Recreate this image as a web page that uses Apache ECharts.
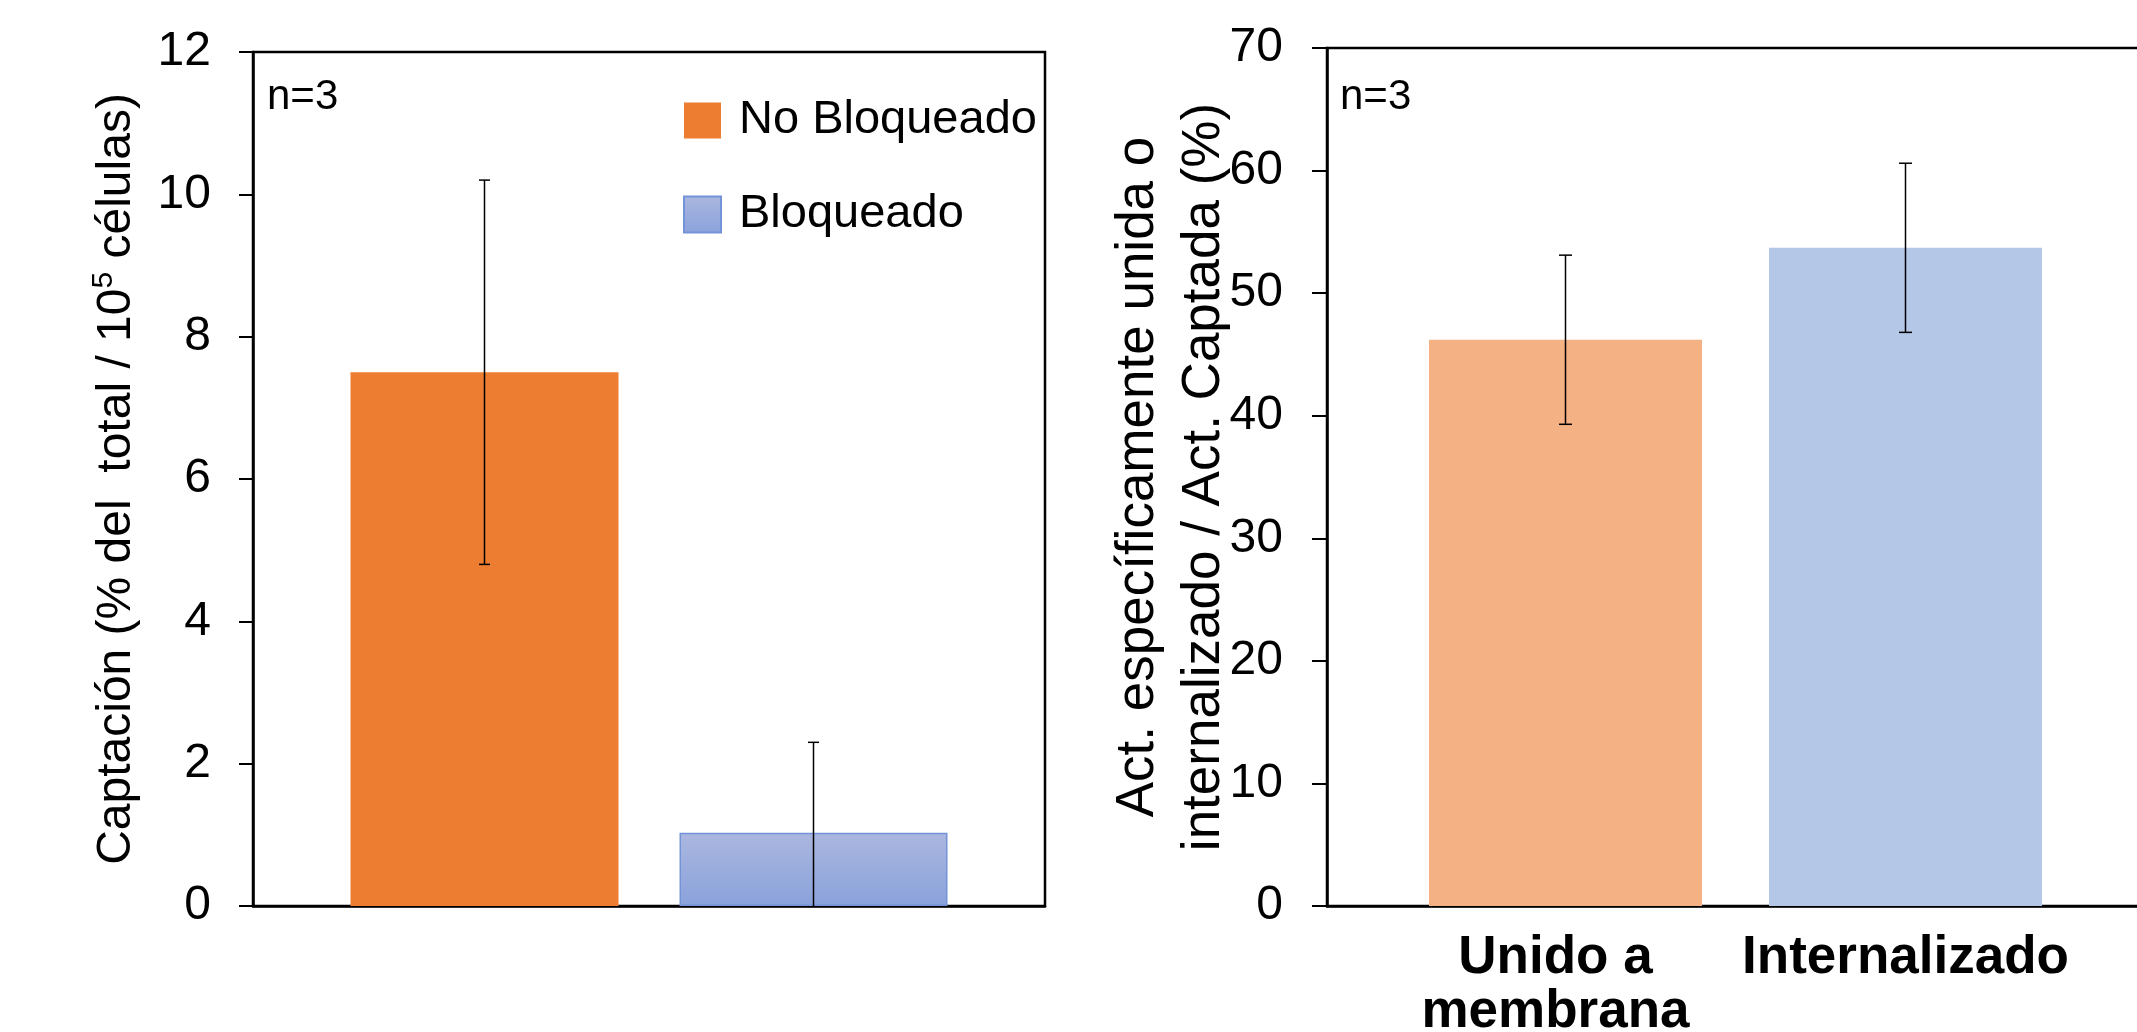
<!DOCTYPE html>
<html>
<head>
<meta charset="utf-8">
<script src="https://cdn.jsdelivr.net/npm/echarts@6/dist/echarts.min.js"></script>
<style>
html,body{margin:0;padding:0;background:#fff;}
#c{width:2137px;height:1032px;}
</style>
</head>
<body>
<div id="c"></div>
<script>
// ---- data ----
const leftCategories = ['No Bloqueado', 'Bloqueado'];
const leftMeans = [7.5, 1.03];
const leftErrors = [2.7, 1.27];
const leftYMin = 0, leftYMax = 12, leftYInterval = 2;

const rightCategories = ['Unido a\nmembrana', 'Internalizado'];
const rightMeans = [46.2, 53.7];
const rightErrors = [6.9, 6.9];
const rightYMin = 0, rightYMax = 70, rightYInterval = 10;

const nLabel = 'n=3';
const leftYTitle = 'Captación (% del  total / 10{sup|5} células)';
const rightYTitle = 'Act. específicamente unida o\ninternalizado / Act. Captada (%)';

// ---- styles ----
const FONT = '"Liberation Sans", Arial, sans-serif';
const orange = '#ed7d31';
const blueGrad = {type:'linear', x:0, y:0, x2:0, y2:1, colorStops:[{offset:0,color:'#abb7df'},{offset:1,color:'#8aa2db'}]};
const rightColors = ['#f4b183', '#b4c7e7'];
const AXW = 2.5;

const chart = echarts.init(document.getElementById('c'), null, {renderer:'canvas'});

function errBar(capHalf){
  return function(params, api){
    const idx = api.value(0);
    const top = api.coord([idx, api.value(1)]);
    const bot = api.coord([idx, api.value(2)]);
    const st = {stroke:'#000', lineWidth:1.5};
    return {type:'group', children:[
      {type:'line', shape:{x1:top[0], y1:top[1], x2:bot[0], y2:bot[1]}, style:st},
      {type:'line', shape:{x1:top[0]-capHalf, y1:top[1], x2:top[0]+capHalf, y2:top[1]}, style:st},
      {type:'line', shape:{x1:bot[0]-capHalf, y1:bot[1], x2:bot[0]+capHalf, y2:bot[1]}, style:st}
    ]};
  };
}

const leftErrData = leftMeans.map((m,i)=>[i, m+leftErrors[i], m-leftErrors[i]]);
const rightErrData = rightMeans.map((m,i)=>[i, m+rightErrors[i], m-rightErrors[i]]);

const tickLabel = {color:'#000', fontSize:48, fontFamily:FONT};
const xCatData = rightCategories.map((c,i)=> i===0 ? {value:c, textStyle:{padding:[0,20,0,0]}} : c);

const option = {
  animation:false,
  backgroundColor:'#fff',
  textStyle:{fontFamily:FONT},
  grid:[
    {left:253, width:792, top:52, bottom:126, show:true, borderColor:'#000', borderWidth:AXW, backgroundColor:'transparent', outerBoundsMode:'none', containLabel:false},
    {left:320, width:658, top:52, bottom:126, outerBoundsMode:'none', containLabel:false},
    {left:1327, width:860, top:48, bottom:126, show:true, borderColor:'#000', borderWidth:AXW, backgroundColor:'transparent', outerBoundsMode:'none', containLabel:false},
    {left:1395.5, width:680, top:48, bottom:126, outerBoundsMode:'none', containLabel:false}
  ],
  xAxis:[
    {gridIndex:0, type:'value', min:0, max:1, axisLine:{show:true, lineStyle:{color:'#000', width:AXW}}, axisTick:{show:false}, axisLabel:{show:false}, splitLine:{show:false}},
    {gridIndex:1, type:'category', data:leftCategories, axisLine:{show:false}, axisTick:{show:false}, axisLabel:{show:false}},
    {gridIndex:2, type:'value', min:0, max:1, axisLine:{show:true, lineStyle:{color:'#000', width:AXW}}, axisTick:{show:false}, axisLabel:{show:false}, splitLine:{show:false}},
    {gridIndex:3, type:'category', data:xCatData, axisLine:{show:false}, axisTick:{show:false},
      axisLabel:{show:true, color:'#000', fontSize:53, fontWeight:'bold', fontFamily:FONT, lineHeight:54, margin:25, interval:0}}
  ],
  yAxis:[
    {gridIndex:0, type:'value', min:leftYMin, max:leftYMax, interval:leftYInterval,
      axisLine:{show:true, lineStyle:{color:'#000', width:AXW}},
      axisTick:{show:true, length:14, lineStyle:{color:'#000', width:2}},
      axisLabel:Object.assign({margin:42}, tickLabel), splitLine:{show:false},
      name:leftYTitle, nameLocation:'middle', nameRotate:90, nameGap:108, nameMoveOverlap:false,
      nameTextStyle:{color:'#000', fontSize:48, fontFamily:FONT, lineHeight:56,
        rich:{sup:{fontSize:30, fontFamily:FONT, color:'#000', verticalAlign:'top', lineHeight:56}}}
    },
    {gridIndex:1, type:'value', min:leftYMin, max:leftYMax, show:false},
    {gridIndex:2, type:'value', min:rightYMin, max:rightYMax, interval:rightYInterval,
      axisLine:{show:true, lineStyle:{color:'#000', width:AXW}},
      axisTick:{show:true, length:15, lineStyle:{color:'#000', width:2}},
      axisLabel:Object.assign({margin:44}, tickLabel), splitLine:{show:false},
      name:rightYTitle, nameLocation:'middle', nameRotate:90, nameGap:90, nameMoveOverlap:false,
      nameTextStyle:{color:'#000', fontSize:53, fontFamily:FONT, lineHeight:66, align:'center'}
    },
    {gridIndex:3, type:'value', min:rightYMin, max:rightYMax, show:false}
  ],
  legend:{
    orient:'vertical', left:683, top:97, padding:0, itemWidth:37, itemHeight:36, itemGap:47,
    icon:'rect', data:leftCategories,
    textStyle:{color:'#000', fontSize:47, fontFamily:FONT, padding:[0,0,0,13]}
  },
  graphic:[
    {type:'text', left:267, top:76, style:{text:nLabel, fontSize:42, fontFamily:FONT, fill:'#000'}},
    {type:'text', left:1340, top:76, style:{text:nLabel, fontSize:42, fontFamily:FONT, fill:'#000'}}
  ],
  series:[
    {name:leftCategories[0], type:'bar', xAxisIndex:1, yAxisIndex:1, barWidth:268, barGap:'-100%',
      data:[leftMeans[0], '-'], itemStyle:{color:orange}},
    {name:leftCategories[1], type:'bar', xAxisIndex:1, yAxisIndex:1, barWidth:268, barGap:'-100%',
      data:['-', leftMeans[1]], itemStyle:{color:blueGrad, borderColor:'#7393d9', borderWidth:1.5}},
    {name:'errL', type:'custom', xAxisIndex:1, yAxisIndex:1, clip:true, renderItem:errBar(5.5), data:leftErrData, z:5},
    {name:'right', type:'bar', xAxisIndex:3, yAxisIndex:3, barWidth:273,
      data:rightMeans.map((v,i)=>({value:v, itemStyle:{color:rightColors[i]}}))},
    {name:'errR', type:'custom', xAxisIndex:3, yAxisIndex:3, clip:true, renderItem:errBar(6.5), data:rightErrData, z:5}
  ]
};
chart.setOption(option);
</script>
</body>
</html>
